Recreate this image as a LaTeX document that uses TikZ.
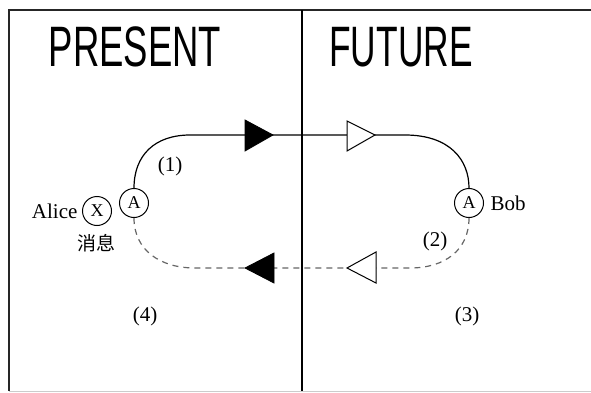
\documentclass[tikz,border=0pt]{standalone}
\usepackage{graphicx}
\usepackage{fontspec}
\setmainfont{Liberation Serif}
\newfontfamily\handfont{Liberation Sans}
\newfontfamily\cjkfont{Noto Sans CJK SC}

\tikzset{
  party/.style={circle, draw, line width=1pt, inner sep=0pt, minimum size=29pt,
    font=\fontsize{18}{18}\selectfont},
  lbl/.style={font=\fontsize{21}{21}\selectfont},
  title/.style={font=\handfont\fontsize{57}{57}\selectfont},
  forward/.style={line width=1.2pt},
  backward/.style={line width=1.2pt, black!60, dash pattern=on 6pt off 5pt},
  fullhead/.style={fill=black, draw=black, line width=0.8pt},
  openhead/.style={fill=white, draw=black, line width=1pt},
}

\begin{document}
\begin{tikzpicture}[x=1pt, y=-1pt]
  \useasboundingbox (0,0) rectangle (591,393);

  % Frame and divider
  \draw[line width=1.8pt, black!85] (591,10) -- (9,10) -- (9,391);
  \draw[line width=1pt, black!20] (9,391) -- (591,391);
  \draw[line width=1.3pt] (302,10) -- (302,391);

  % Titles
  \node[title] (present) at (135,47) {\scalebox{0.64}[1]{PRESENT}};
  \node[title] (future) at (401,47) {\scalebox{0.62}[1]{FUTURE}};

  % Parties
  \node[party] (aliceA) at (134,203) {A};
  \node[party] (aliceX) at (97,211) {X};
  \node[party] (bobA) at (469,203) {A};
  \node[lbl, anchor=east] (alice) at ([xshift=-1pt]aliceX.west) {Alice};
  \node[lbl, anchor=west] (bob) at ([xshift=3pt]bobA.east) {Bob};
  \node[lbl] (msg) at (96,243) {\cjkfont\fontsize{19}{19}\selectfont 消息};

  % Path corners
  \coordinate (topL) at (190,135);
  \coordinate (topR) at (405,135);
  \coordinate (botR) at (410,268);
  \coordinate (botL) at (195,268);

  % Forward in time (solid)
  \draw[forward] (aliceA.north) .. controls (134,155) and (155,135) .. (topL)
    -- (topR) .. controls (450,135) and (469,160) .. (bobA.north);
  % Backward in time (dashed)
  \draw[backward] (bobA.south) .. controls (469,250) and (445,268) .. (botR)
    -- (botL) .. controls (160,268) and (134,250) .. (aliceA.south);

  % Arrowheads
  \coordinate (tipA) at (273,135);
  \coordinate (tipB) at (375,135);
  \coordinate (tipC) at (245,268);
  \coordinate (tipD) at (347,268);
  \draw[fullhead] (tipA) -- ++(-28,-15) -- ++(0,31) -- cycle;
  \draw[openhead] (tipB) -- ++(-28,-14) -- ++(0,30) -- cycle;
  \draw[fullhead] (tipC) -- ++(29,-15) -- ++(0,30) -- cycle;
  \draw[openhead] (tipD) -- ++(29,-16) -- ++(0,31) -- cycle;

  % Region labels
  \node[lbl] (one) at (170,166) {(1)};
  \node[lbl] (two) at (435,241) {(2)};
  \node[lbl] (three) at (467,316) {(3)};
  \node[lbl] (four) at (145,316) {(4)};
\end{tikzpicture}
\end{document}
